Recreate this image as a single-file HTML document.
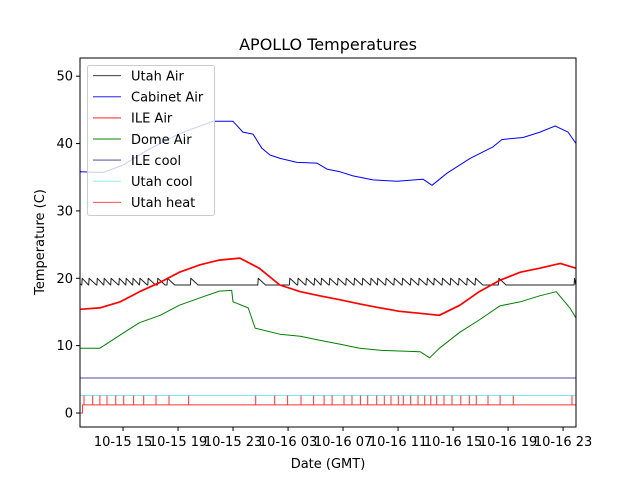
<!DOCTYPE html>
<html><head><meta charset="utf-8"><style>
body{margin:0;background:#fff}
svg text{font-family:"DejaVu Sans","Liberation Sans",sans-serif}
</style></head><body>
<svg id="chart" width="640" height="480" viewBox="0 0 640 480" xmlns="http://www.w3.org/2000/svg">
<rect width="640" height="480" fill="#fff"/>
<text x="328" y="50" font-size="16" text-anchor="middle">APOLLO Temperatures</text>
<g id="plot"></g>
<g id="axes"></g>
<text x="328" y="468" font-size="13" text-anchor="middle">Date (GMT)</text>
<text transform="translate(44,242) rotate(-90)" font-size="13" text-anchor="middle">Temperature (C)</text>
<g id="legend"></g>
</svg>
<script>
// x in hours since 10-15 00:00 GMT
const xTickHours = [15, 19, 23, 27, 31, 35, 39, 43, 47];
const xTickLabels = ["10-15 15","10-15 19","10-15 23","10-16 03","10-16 07","10-16 11","10-16 15","10-16 19","10-16 23"];
const yTicks = [0, 10, 20, 30, 40, 50];

const cabinetT = [11.87,13.54,15.0,16.74,19.14,21.54,23.0,23.72,24.45,25.1,25.69,26.42,27.65,29.1,29.83,30.78,31.72,33.18,34.92,36.81,37.47,38.56,40.23,41.9,42.56,44.09,45.32,46.42,47.36,47.94];
const cabinetV = [35.8,35.7,36.8,39.0,41.5,43.3,43.3,41.7,41.4,39.3,38.3,37.8,37.2,37.1,36.2,35.8,35.2,34.6,34.4,34.7,33.8,35.6,37.8,39.5,40.6,40.9,41.7,42.6,41.7,40.0];

const ileAirT = [11.87,13.3,14.8,16.2,17.7,19.1,20.6,22.0,23.5,24.9,26.4,27.9,29.3,30.8,32.2,33.7,35.1,36.6,38.0,39.5,40.9,42.4,43.9,45.3,46.8,47.94];
const ileAirV = [15.4,15.6,16.5,18.0,19.4,20.9,22.0,22.7,23.0,21.5,19.0,18.0,17.4,16.8,16.2,15.6,15.1,14.8,14.5,16.0,18.0,19.7,20.9,21.5,22.2,21.5];

const domeT = [11.87,13.3,14.8,16.2,17.7,19.1,20.6,22.0,22.9,23.0,24.1,24.6,26.4,27.9,29.3,30.8,32.2,33.7,35.1,36.6,37.3,38.0,39.5,40.9,42.4,43.9,45.3,46.5,47.5,47.94];
const domeV = [9.6,9.6,11.6,13.4,14.5,16.0,17.1,18.1,18.2,16.5,15.6,12.6,11.7,11.4,10.8,10.2,9.6,9.3,9.2,9.1,8.2,9.6,12.0,13.8,15.9,16.5,17.4,18.0,15.6,14.1];

const ileCoolT = [11.87, 47.94];
const ileCoolV = [5.2, 5.2];
const utahCoolT = [11.87, 47.94];
const utahCoolV = [2.6, 2.6];

const utahAirTeeth = [12.0,12.5,13.1,13.6,14.1,14.7,15.2,15.7,16.2,16.8,17.5,18.2,19.9,24.8,27.1,27.7,28.3,28.9,29.4,30.0,30.6,31.2,31.8,32.4,33.0,33.5,34.1,34.7,35.3,35.9,36.5,37.1,37.6,38.2,38.8,39.4,40.0,40.6,42.3,47.8];
const utahAirLow = 19.0;
const utahAirPeak = 20.0;

const utahHeatBase = 1.2;
const utahHeatSpike = 2.6;
const utahHeatStart = 12.05;
const utahHeatSpikes = [12.16,12.79,13.32,13.83,14.47,15.05,15.77,16.5,17.4,18.34,19.77,24.65,26.03,26.97,27.94,28.86,29.62,30.2,31.07,31.65,32.26,32.79,33.45,34.0,34.49,35.02,35.38,35.92,36.45,36.94,37.38,37.81,38.34,38.92,39.56,40.18,40.69,41.54,42.42,43.38,47.65];

const X0=80,X1=576,Y0=58,Y1=427, xMin=11.87, xMax=47.94, yMin=-2.08, yMax=52.7;
const sx = h => X0 + (h-xMin)/(xMax-xMin)*(X1-X0);
const sy = v => Y1 - (v-yMin)/(yMax-yMin)*(Y1-Y0);
const NS="http://www.w3.org/2000/svg";
const plot=document.getElementById('plot'), axes=document.getElementById('axes'), legend=document.getElementById('legend');
function mk(tag, attrs, parent){const e=document.createElementNS(NS,tag);for(const k in attrs)e.setAttribute(k,attrs[k]);parent.appendChild(e);return e;}
function line(ts, vs, color, w, name){
  const d = ts.map((t,i)=>(i?'L':'M')+sx(t).toFixed(1)+','+sy(vs[i]).toFixed(1)).join('');
  const p = mk('path',{d:d,fill:'none',stroke:color,'stroke-width':w,'stroke-linejoin':'round'},plot);
  
  
}
line(ileCoolT, ileCoolV, '#4b4ba0', 1, 'ile-cool-line');
line(utahCoolT, utahCoolV, '#7fe9ee', 1, 'utah-cool-line');
// Utah heat
{
  let d='M'+sx(xMin)+','+sy(0)+'L'+sx(utahHeatStart)+','+sy(0)+'L'+sx(utahHeatStart)+','+sy(utahHeatBase)+'L'+sx(xMax)+','+sy(utahHeatBase);
  utahHeatSpikes.forEach(t=>{d+='M'+sx(t).toFixed(1)+','+sy(utahHeatBase)+'L'+sx(t).toFixed(1)+','+sy(utahHeatSpike);});
  const p=mk('path',{d:d,fill:'none',stroke:'#f33','stroke-width':1},plot);
  
  
}
// Utah Air sawtooth
{
  const ts=[xMin], vs=[19.2];
  utahAirTeeth.forEach((t,i)=>{
    const next = i<utahAirTeeth.length-1 ? utahAirTeeth[i+1] : xMax;
    ts.push(t, t+0.03, Math.min(t+0.56, next-0.01)); vs.push(utahAirLow, utahAirPeak, utahAirLow);
  });
  ts.push(xMax); vs.push(utahAirLow);
  line(ts, vs, '#222', 1, 'utah-air-line');
}
line(domeT, domeV, 'green', 1, 'dome-air-line');
line(ileAirT, ileAirV, 'red', 1.7, 'ile-air-line');
line(cabinetT, cabinetV, 'blue', 1, 'cabinet-air-line');

// axes
{
  const f=mk('rect',{x:X0,y:Y0,width:X1-X0,height:Y1-Y0,fill:'none',stroke:'#000','stroke-width':1},axes);
  
  
  yTicks.forEach(v=>{
    const y=sy(v);
    mk('line',{x1:X0-4,x2:X0,y1:y,y2:y,stroke:'#000'},axes);
    const t=mk('text',{x:X0-7,y:y+4.5,'font-size':13,'text-anchor':'end'},axes);
    t.textContent=v;
    
    
  });
  xTickHours.forEach((h,i)=>{
    const x=sx(h);
    mk('line',{x1:x,x2:x,y1:Y1,y2:Y1+4,stroke:'#000'},axes);
    const t=mk('text',{x:x,y:Y1+19,'font-size':13,'text-anchor':'middle'},axes);
    t.textContent=xTickLabels[i];
    
    
  });
}
// legend
{
  const names=["Utah Air","Cabinet Air","ILE Air","Dome Air","ILE cool","Utah cool","Utah heat"];
  const cols=['#222','blue','red','green','#33338a','#7fe9ee','#f33'];
  const r=mk('rect',{x:87.5,y:65.5,width:127,height:150,rx:2,fill:'#fff','fill-opacity':0.8,stroke:'#ccc'},legend);
  
  
  names.forEach((n,i)=>{
    const y=75.7+i*21.1;
    mk('line',{x1:93,x2:121,y1:y,y2:y,stroke:cols[i],'stroke-width':0.9},legend);
    const t=mk('text',{x:131,y:y+4.8,'font-size':13},legend);
    t.textContent=n;
    
    
  });
}
</script>
</body></html>
